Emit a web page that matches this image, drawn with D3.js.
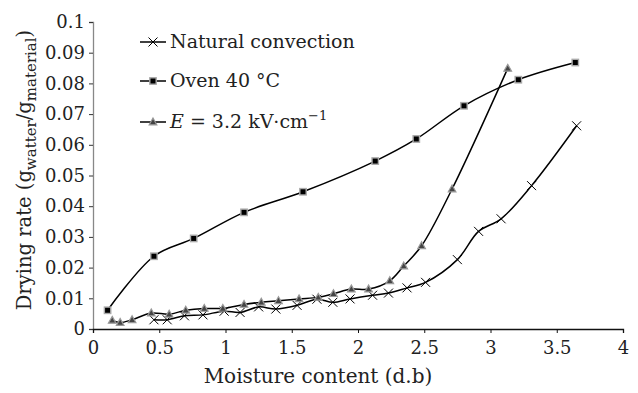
<!DOCTYPE html>
<html>
<head>
<meta charset="utf-8">
<script src="https://cdn.jsdelivr.net/npm/d3@7"></script>
<style>
  body { margin: 0; background: #fff; }
</style>
</head>
<body>
<script>
// data
var natX = [0.46, 0.56, 0.69, 0.83, 0.99, 1.11, 1.25, 1.38, 1.54, 1.69, 1.81, 1.94, 2.11, 2.23, 2.37, 2.51, 2.75, 2.91, 3.08, 3.31, 3.65];
var natY = [0.003, 0.003, 0.0043, 0.0046, 0.0058, 0.0054, 0.0072, 0.0065, 0.0077, 0.0097, 0.0087, 0.0098, 0.011, 0.0117, 0.0134, 0.0152, 0.0226, 0.0318, 0.0359, 0.0467, 0.0662];

var ovenX = [0.11, 0.46, 0.76, 1.14, 1.585, 2.13, 2.44, 2.80, 3.21, 3.64];
var ovenY = [0.0061, 0.0237, 0.0295, 0.038, 0.0447, 0.0547, 0.0619, 0.0727, 0.0812, 0.0868];

var elecX = [0.145, 0.205, 0.295, 0.44, 0.575, 0.70, 0.84, 0.98, 1.14, 1.27, 1.40, 1.555, 1.70, 1.815, 1.95, 2.08, 2.24, 2.345, 2.48, 2.71, 3.13];
var elecY = [0.0028, 0.0021, 0.003, 0.0052, 0.0048, 0.0061, 0.0067, 0.0067, 0.008, 0.0087, 0.0092, 0.0098, 0.0103, 0.0115, 0.013, 0.013, 0.0157, 0.0205, 0.0271, 0.0456, 0.0849];

var xTicks = [0, 0.5, 1, 1.5, 2, 2.5, 3, 3.5, 4];
var yTicks = [0, 0.01, 0.02, 0.03, 0.04, 0.05, 0.06, 0.07, 0.08, 0.09, 0.1];

var FONT = "'DejaVu Serif', 'Liberation Serif', serif";

var width = 638, height = 393;
var margin = {top: 22, right: 15, bottom: 64, left: 93};

var svg = d3.select("body").append("svg")
  .attr("width", width)
  .attr("height", height)
  .attr("font-family", FONT);

var x = d3.scaleLinear().domain([0, 4]).range([margin.left, width - margin.right]);
var y = d3.scaleLinear().domain([0, 0.1]).range([height - margin.bottom, margin.top]);

// y axis (grey line, ticks out to the left)
var yAxis = svg.append("g")
  .attr("transform", "translate(" + margin.left + ",0)")
  .call(d3.axisLeft(y).tickValues(yTicks).tickSize(4).tickPadding(4)
    .tickFormat(function(d){ return +d.toFixed(2); }));
yAxis.attr("font-family", FONT).attr("font-size", 18);
yAxis.select(".domain").attr("stroke", "#888").attr("stroke-width", 1.3);
yAxis.selectAll(".tick line").attr("stroke", "#333");
yAxis.selectAll(".tick text").attr("fill", "#222");

// x axis
var xAxis = svg.append("g")
  .attr("transform", "translate(0," + y(0) + ")")
  .call(d3.axisBottom(x).tickValues(xTicks).tickSize(4).tickPadding(8)
    .tickFormat(function(d){ return d; }));
xAxis.attr("font-family", FONT).attr("font-size", 18);
xAxis.select(".domain").attr("stroke", "#111").attr("stroke-width", 1.3);
xAxis.selectAll(".tick line").attr("stroke", "#111");
xAxis.selectAll(".tick text").attr("fill", "#222");

// axis titles
svg.append("text")
  .attr("x", 318)
  .attr("y", 383)
  .attr("text-anchor", "middle")
  .attr("font-size", 20)
  .attr("fill", "#222")
  .text("Moisture content (d.b)");

var yl = svg.append("text")
  .attr("transform", "translate(31,170) rotate(-90)")
  .attr("text-anchor", "middle")
  .attr("fill", "#222")
  .attr("font-size", 19.5);
yl.append("tspan").text("Drying rate (g");
yl.append("tspan").attr("dy", 5).attr("font-size", 15).text("watter");
yl.append("tspan").attr("dy", -5).text("/g");
yl.append("tspan").attr("dy", 5).attr("font-size", 15).text("material");
yl.append("tspan").attr("dy", -5).text(")");

var line = d3.line()
  .x(function(d){ return x(d[0]); })
  .y(function(d){ return y(d[1]); })
  .curve(d3.curveCatmullRom.alpha(0.5));

function pairs(xs, ys) { return xs.map(function(v, i){ return [v, ys[i]]; }); }

var series = [
  {name: "nat", pts: pairs(natX, natY)},
  {name: "oven", pts: pairs(ovenX, ovenY)},
  {name: "elec", pts: pairs(elecX, elecY)}
];

series.forEach(function(s){
  svg.append("path")
    .datum(s.pts)
    .attr("fill", "none")
    .attr("stroke", "#000")
    .attr("stroke-width", 1.5)
    .attr("d", line);
});

// marker drawing
function drawMarker(g, kind) {
  if (kind === "nat") {
    g.append("path").attr("d", "M-4.5,-4.5L4.5,4.5M-4.5,4.5L4.5,-4.5")
      .attr("stroke", "#000").attr("stroke-width", 1).attr("fill", "none");
  } else if (kind === "oven") {
    g.append("rect").attr("x", -3.2).attr("y", -3.2).attr("width", 6.4).attr("height", 6.4)
      .attr("fill", "#000").attr("stroke", "#aaa").attr("stroke-width", 1.4);
  } else {
    g.append("path").attr("d", "M0,-4L3.8,2.8L-3.8,2.8Z")
      .attr("fill", "#444").attr("stroke", "#999").attr("stroke-width", 1.2);
  }
}

series.forEach(function(s){
  svg.append("g").selectAll("g")
    .data(s.pts)
    .enter().append("g")
    .attr("transform", function(d){ return "translate(" + x(d[0]) + "," + y(d[1]) + ")"; })
    .each(function(){ drawMarker(d3.select(this), s.name); });
});

// legend
var legY = [42, 81, 122];
var legKinds = ["nat", "oven", "elec"];
legKinds.forEach(function(k, i){
  var g = svg.append("g").attr("transform", "translate(0," + legY[i] + ")");
  g.append("line").attr("x1", 140).attr("x2", 166).attr("stroke", "#000").attr("stroke-width", 1.5);
  var m = g.append("g").attr("transform", "translate(153,0)");
  drawMarker(m, k);
});

svg.append("text").attr("x", 170).attr("y", 48).attr("font-size", 19).attr("fill", "#222").text("Natural convection");
svg.append("text").attr("x", 170).attr("y", 87).attr("font-size", 19).attr("fill", "#222").text("Oven 40 °C");
var et = svg.append("text").attr("x", 170).attr("y", 128).attr("font-size", 19).attr("fill", "#222");
et.append("tspan").attr("font-style", "italic").text("E");
et.append("tspan").text(" = 3.2 kV·cm");
et.append("tspan").attr("dy", -8).attr("font-size", 13).text("−1");
</script>
</body>
</html>
